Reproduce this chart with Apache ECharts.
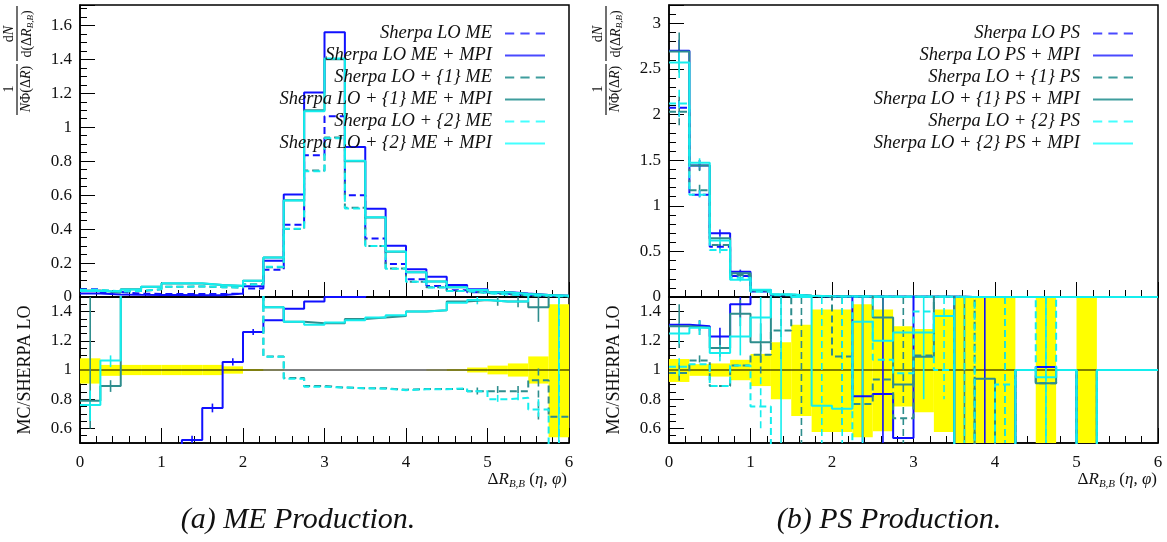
<!DOCTYPE html>
<html>
<head>
<meta charset="utf-8">
<script src="https://cdn.jsdelivr.net/npm/echarts@6/dist/echarts.min.js"></script>
<style>
html,body{margin:0;padding:0;background:#fff;}
#c{width:1167px;height:542px;}
</style>
</head>
<body>
<div id="c"></div>
<script>
// ---------------- DATA ----------------
const binEdges = [0,0.25,0.5,0.75,1,1.25,1.5,1.75,2,2.25,2.5,2.75,3,3.25,3.5,3.75,4,4.25,4.5,4.75,5,5.25,5.5,5.75,6];
const xTickLabels = ['0','1','2','3','4','5','6'];

const namesME = ['Sherpa LO ME','Sherpa LO ME + MPI','Sherpa LO + {1} ME','Sherpa LO + {1} ME + MPI','Sherpa LO + {2} ME','Sherpa LO + {2} ME + MPI'];
const namesPS = ['Sherpa LO PS','Sherpa LO PS + MPI','Sherpa LO + {1} PS','Sherpa LO + {1} PS + MPI','Sherpa LO + {2} PS','Sherpa LO + {2} PS + MPI'];

// (a) ME production, main distribution
const meLO        = [0.045,0.030,0.020,0.018,0.018,0.018,0.018,0.019,0.050,0.160,0.425,0.835,1.065,0.600,0.345,0.194,0.104,0.065,0.040,0.028,0.019,0.012,0.008,0.005];
const meLOMPI     = [0.020,0.015,0.013,0.012,0.012,0.010,0.011,0.020,0.063,0.214,0.604,1.205,1.560,0.884,0.520,0.302,0.163,0.120,0.070,0.045,0.030,0.020,0.012,0.008];
const meLO1       = [0.040,0.032,0.035,0.045,0.060,0.062,0.058,0.055,0.075,0.175,0.400,0.745,0.940,0.525,0.300,0.168,0.090,0.057,0.035,0.024,0.016,0.010,0.007,0.004];
const meLO1MPI    = [0.038,0.027,0.045,0.060,0.080,0.080,0.070,0.065,0.095,0.233,0.570,1.100,1.400,0.800,0.469,0.267,0.146,0.092,0.058,0.041,0.028,0.017,0.012,0.007];
const meLO2       = [0.042,0.033,0.036,0.046,0.060,0.063,0.058,0.056,0.074,0.178,0.402,0.740,0.935,0.522,0.300,0.167,0.090,0.056,0.035,0.024,0.015,0.010,0.006,0.003];
const meLO2MPI    = [0.036,0.032,0.044,0.060,0.081,0.081,0.071,0.066,0.096,0.232,0.568,1.094,1.405,0.802,0.470,0.268,0.146,0.092,0.058,0.041,0.028,0.017,0.012,0.008];

// (a) ratio MC / SHERPA LO
const rMeLOMPI    = [0.30,0.30,0.30,0.30,0.30,0.52,0.74,1.054,1.26,1.34,1.42,1.47,1.50,1.50,1.70,1.70,1.70,1.70,1.70,1.70,1.70,1.70,1.70,1.70];
const rMeLO1      = [1.70,1.70,2.00,2.00,2.00,2.00,2.00,2.00,2.00,1.093,0.946,0.89,0.88,0.875,0.875,0.865,0.87,0.87,0.87,0.855,0.855,0.855,0.93,0.68];
const rMeLO1MPI   = [0.79,0.89,2.00,2.00,2.00,2.00,2.00,2.00,2.00,1.43,1.33,1.32,1.32,1.35,1.36,1.37,1.40,1.41,1.47,1.48,1.47,1.47,1.43,1.70];
const rMeLO2      = [1.70,1.70,2.00,2.00,2.00,2.00,2.00,2.00,2.00,1.09,0.94,0.885,0.88,0.875,0.872,0.862,0.868,0.868,0.875,0.855,0.80,0.81,0.73,0.40];
const rMeLO2MPI   = [0.76,1.065,2.00,2.00,2.00,2.00,2.00,2.00,2.00,1.43,1.33,1.31,1.325,1.34,1.36,1.375,1.40,1.41,1.46,1.48,1.47,1.47,1.70,1.70];
const bandLoA     = [0.907,0.96,0.965,0.965,0.965,0.965,0.965,0.975,0.994,0.998,0.999,1,1,1,1,1,0.999,0.998,0.995,0.983,0.97,0.955,0.907,0.54];
const bandHiA     = [1.08,1.035,1.035,1.035,1.035,1.035,1.035,1.025,1.006,1.002,1.001,1,1,1,1,1,1.001,1.002,1.005,1.017,1.03,1.045,1.093,1.45];
// (a) ratio error bars [x, low, high]
const eRMeLOMPI   = [[1.375,0.50,0.55],[1.625,0.71,0.77],[1.875,1.03,1.08],[2.125,1.24,1.28]];
const eRMeLO1     = [[4.875,0.83,0.88],[5.125,0.82,0.89],[5.375,0.82,0.89],[5.625,0.65,1.01],[5.875,0.30,1.70]];
const eRMeLO1MPI  = [[0.125,0.60,1.70],[0.375,0.85,0.93],[5.125,1.44,1.50],[5.375,1.43,1.50],[5.625,1.33,1.50]];
const eRMeLO2     = [[5.125,0.78,0.83],[5.375,0.78,0.84],[5.625,0.68,0.80],[5.875,0.30,1.70]];
const eRMeLO2MPI  = [[0.125,0.65,0.86],[0.375,1.02,1.10],[4.875,1.45,1.50],[5.875,0.30,1.70]];

// (b) PS production, main distribution
const psLO        = [2.075,1.12,0.55,0.23,0.060,0.020,0.012,0.008,0.006,0.005,0.004,0.003,0.002,0.002,0.001,0.001,0.001,0.0005,0.0005,0.0003,0.0002,0.0001,0.0001,0.0001];
const psLOMPI     = [2.70,1.44,0.698,0.277,0.077,0.022,0.012,0.008,0.006,0.004,0.003,0.002,0.002,0.002,0.001,0.001,0.001,0.0005,0.0005,0.0003,0.0002,0.0001,0.0001,0.0001];
const psLO1       = [2.03,1.17,0.57,0.24,0.068,0.025,0.014,0.009,0.006,0.004,0.004,0.003,0.002,0.002,0.001,0.001,0.001,0.0005,0.0005,0.0003,0.0002,0.0001,0.0001,0.0001];
const psLO1MPI    = [2.69,1.44,0.643,0.26,0.072,0.024,0.013,0.008,0.006,0.005,0.004,0.003,0.002,0.002,0.001,0.001,0.001,0.0005,0.0005,0.0003,0.0002,0.0001,0.0001,0.0001];
const psLO2       = [2.12,1.12,0.515,0.21,0.058,0.018,0.010,0.007,0.005,0.004,0.003,0.002,0.002,0.001,0.001,0.001,0.001,0.0005,0.0005,0.0003,0.0002,0.0001,0.0001,0.0001];
const psLO2MPI    = [2.57,1.47,0.62,0.19,0.080,0.030,0.015,0.009,0.006,0.005,0.004,0.003,0.002,0.002,0.001,0.001,0.001,0.0005,0.0005,0.0003,0.0002,0.0001,0.0001,0.0001];
// (b) main error bars [x, low, high]
const ePsLO       = [[0.125,1.98,2.16],[0.375,1.07,1.17],[0.625,0.52,0.58]];
const ePsLOMPI    = [[0.125,2.58,2.82],[0.375,1.39,1.50],[0.625,0.66,0.74],[0.875,0.26,0.30]];
const ePsLO1      = [[0.125,1.86,2.20],[0.375,1.11,1.23],[0.625,0.54,0.60]];
const ePsLO1MPI   = [[0.125,2.46,2.90],[0.375,1.38,1.50],[0.875,0.22,0.29]];
const ePsLO2      = [[0.125,1.97,2.27],[0.375,1.07,1.17],[0.625,0.48,0.55]];
const ePsLO2MPI   = [[0.125,2.40,2.70],[0.375,1.42,1.52],[0.625,0.58,0.66],[0.875,0.17,0.21]];

// (b) ratio MC / SHERPA LO
const rPsLOMPI    = [1.31,1.30,1.23,1.45,1.80,1.80,1.80,1.80,1.80,0.82,0.835,0.535,1.80,1.80,0,0,0,1,1.02,1,0,1,1,1];
const rPsLO1      = [0.98,1.065,0.89,1.03,1.105,1.27,1.80,1.80,1.093,0.767,0.935,0.67,1.10,1.80,1.80,0,0,1,0.91,1,0,1,1,1];
const rPsLO1MPI   = [1.30,1.29,1.15,1.385,1.19,1.80,1.80,1.80,1.80,1.80,1.36,0.90,1.09,1.80,0,0.94,0,1,0.91,1,0,1,1,1];
const rPsLO2      = [1.023,1.04,0.89,1.03,0.75,0.20,0.20,0.20,0.20,1.80,1.07,0.977,1.40,1.00,1.80,0,0.90,1,1.80,1,0,1,1,1];
const rPsLO2MPI   = [1.25,1.29,1.117,1.23,1.36,1.80,1.50,0.755,0.735,1.33,1.20,1.256,1.256,1.37,0,0,0,1,0.95,1,0,1,1,1];
const bandLoB     = [0.918,0.96,0.955,0.93,0.89,0.80,0.685,0.575,0.575,0.54,0.58,0.75,0.71,0.575,0.3,0.3,0.3,1,0.3,1,0.3,1,1,1];
const bandHiB     = [1.075,1.04,1.045,1.07,1.11,1.19,1.31,1.415,1.415,1.45,1.415,1.30,1.28,1.415,1.7,1.7,1.7,1,1.7,1,1.7,1,1,1];
// (b) ratio error bars [x, low, high]
const eRPsLOMPI   = [[0.375,1.27,1.34],[0.625,1.17,1.29],[0.875,1.36,1.55],[2.375,0.30,1.70],[2.625,0.30,1.70],[3.875,0.30,1.70]];
const eRPsLO1     = [[0.125,0.92,1.05],[0.375,1.03,1.10],[1.125,0.95,1.25],[1.375,1.05,1.50],[1.625,0.30,1.70],[2.125,0.60,1.60],[2.875,0.30,1.70],[4.125,0.30,1.70]];
const eRPsLO1MPI  = [[0.125,1.15,1.45],[0.375,1.24,1.34],[0.625,1.09,1.22],[0.875,1.30,1.48],[1.125,1.05,1.32],[2.625,1.20,1.70],[3.625,0.30,1.70]];
const eRPsLO2     = [[0.125,0.96,1.08],[1.125,0.60,0.95],[1.875,0.30,1.70],[2.125,0.30,1.70],[3.375,0.80,1.55],[3.625,0.30,1.70],[4.125,0.30,1.70],[4.625,0.30,1.70]];
const eRPsLO2MPI  = [[0.125,1.18,1.32],[0.375,1.24,1.34],[0.625,1.06,1.17],[0.875,1.10,1.36],[1.125,1.20,1.50],[1.375,0.30,1.70],[2.375,0.30,1.70],[3.125,0.80,1.70],[4.625,0.30,1.70]];

// ---------------- STYLE ----------------
const SERIF = "'Liberation Serif','DejaVu Serif',serif";
const BLUE = '#1010ff', TEAL = '#2e8d8d', CYAN = '#14eeee';
const styles = [
  {color: BLUE, type: [7,4], legend: '#4a4aff', dashed: true},
  {color: BLUE, type: 'solid', legend: '#4a4aff', dashed: false},
  {color: TEAL, type: [7,4], legend: '#3f9d9d', dashed: true},
  {color: TEAL, type: 'solid', legend: '#3f9d9d', dashed: false},
  {color: CYAN, type: [7,4], legend: '#44ffff', dashed: true},
  {color: CYAN, type: 'solid', legend: '#44ffff', dashed: false}
];
const ICON_SOLID = 'path://M0,0H40V2H0Z';
const ICON_DASH = 'path://M0,0H9V2H0Z M15,0H24V2H15Z M30,0H39V2H30Z';

function stepData(vals){
  const d = vals.map((v,i)=>[binEdges[i], v]);
  d.push([binEdges[binEdges.length-1], vals[vals.length-1]]);
  return d;
}
function histSeries(name, vals, st, xi, yi){
  return {
    name: name, type: 'line', step: 'end', symbol: 'none', showSymbol: false,
    xAxisIndex: xi, yAxisIndex: yi, clip: true, silent: true,
    data: stepData(vals),
    lineStyle: {color: st.color, width: 2, type: st.type},
    itemStyle: {color: st.color},
    z: 3
  };
}
function errSeries(vals, st, xi, yi){
  return {
    type: 'custom', xAxisIndex: xi, yAxisIndex: yi, silent: true, z: 3,
    data: vals,
    renderItem: function(params, api){
      const cs = params.coordSys;
      const a = api.coord([api.value(0), api.value(1)]);
      const b = api.coord([api.value(0), api.value(2)]);
      const y0 = Math.max(cs.y, Math.min(a[1], b[1]));
      const y1 = Math.min(cs.y + cs.height, Math.max(a[1], b[1]));
      if (y1 <= y0) return null;
      return {type:'line', shape:{x1:a[0], y1:y0, x2:a[0], y2:y1},
              style:{stroke: st.color, lineWidth: 1.6, lineDash: st.dashed ? [7,4] : null}};
    }
  };
}
function bandSeries(lo, hi, xi, yi){
  const data = lo.map((l,i)=>[binEdges[i], binEdges[i+1], l, hi[i]]);
  return {
    type: 'custom', xAxisIndex: xi, yAxisIndex: yi, silent: true, z: 1,
    data: data,
    renderItem: function(params, api){
      const cs = params.coordSys;
      const p0 = api.coord([api.value(0), api.value(3)]);
      const p1 = api.coord([api.value(1), api.value(2)]);
      let x0 = p0[0], x1 = p1[0];
      let y0 = Math.max(cs.y, Math.min(p0[1], p1[1]));
      let y1 = Math.min(cs.y + cs.height, Math.max(p0[1], p1[1]));
      if (y1 - y0 < 0.5) return null;
      return {type:'rect', shape:{x:x0, y:y0, width:x1-x0, height:y1-y0}, style:{fill:'#ffff00'}};
    }
  };
}
function unitLine(xi, yi){
  return {
    type: 'line', xAxisIndex: xi, yAxisIndex: yi, symbol: 'none', silent: true, z: 2,
    data: [[binEdges[0],1],[binEdges[binEdges.length-1],1]],
    lineStyle: {color:'#000', width: 1.2}
  };
}
function xAx(gi, showLabels){
  return {
    type:'value', gridIndex: gi, min: 0, max: 6, interval: 1,
    axisLine:{show:true, onZero:false, lineStyle:{color:'#000', width:1.5}},
    axisTick:{show:true, inside:true, length:15, lineStyle:{color:'#000', width:1}},
    minorTick:{show:true, splitNumber:5, length:7, lineStyle:{color:'#000', width:1}},
    splitLine:{show:false}, minorSplitLine:{show:false},
    axisLabel:{show: showLabels, margin: 11, color:'#111', fontFamily: SERIF, fontSize: 17,
               formatter: function(v){ return xTickLabels[Math.round(v)]; }}
  };
}
function yAx(gi, cfg){
  const o = {
    type:'value', gridIndex: gi, min: cfg.min, max: cfg.max,
    axisLine:{show:true, onZero:false, lineStyle:{color:'#000', width:1.5}},
    axisTick:{show:true, inside:true, length:15, lineStyle:{color:'#000', width:1}},
    minorTick:{show:true, splitNumber: cfg.minor, length:7, lineStyle:{color:'#000', width:1}},
    splitLine:{show:false}, minorSplitLine:{show:false},
    axisLabel:{margin: 8, color:'#111', fontFamily: SERIF, fontSize: 17, showMaxLabel: false, showMinLabel: cfg.showMin}
  };
  if (cfg.interval) o.interval = cfg.interval; else o.splitNumber = cfg.split;
  return o;
}

const grids = [
  {left: 80, top: 5, width: 489, height: 292},
  {left: 80, top: 297, width: 489, height: 146},
  {left: 669, top: 5, width: 489, height: 292},
  {left: 669, top: 297, width: 489, height: 146}
].map(g => Object.assign(g, {show:true, borderColor:'#000', borderWidth:1.5, backgroundColor:'transparent', containLabel:false}));

const xAxes = [xAx(0,false), xAx(1,true), xAx(2,false), xAx(3,true)];
const yAxes = [
  yAx(0, {min:0, max:1.72, interval:0.2, minor:4, showMin:true}),
  yAx(1, {min:0.5, max:1.5, split:5, minor:4, showMin:false}),
  yAx(2, {min:0, max:3.2, interval:0.5, minor:5, showMin:true}),
  yAx(3, {min:0.5, max:1.5, split:5, minor:4, showMin:false})
];

const mainA = [meLO, meLOMPI, meLO1, meLO1MPI, meLO2, meLO2MPI];
const mainB = [psLO, psLOMPI, psLO1, psLO1MPI, psLO2, psLO2MPI];
const errMainB = [ePsLO, ePsLOMPI, ePsLO1, ePsLO1MPI, ePsLO2, ePsLO2MPI];
const ratioA = [null, rMeLOMPI, rMeLO1, rMeLO1MPI, rMeLO2, rMeLO2MPI];
const errRatioA = [null, eRMeLOMPI, eRMeLO1, eRMeLO1MPI, eRMeLO2, eRMeLO2MPI];
const ratioB = [null, rPsLOMPI, rPsLO1, rPsLO1MPI, rPsLO2, rPsLO2MPI];
const errRatioB = [null, eRPsLOMPI, eRPsLO1, eRPsLO1MPI, eRPsLO2, eRPsLO2MPI];

const series = [];
mainA.forEach((v,i)=>series.push(histSeries(namesME[i], v, styles[i], 0, 0)));
mainB.forEach((v,i)=>{
  series.push(histSeries(namesPS[i], v, styles[i], 2, 2));
  series.push(errSeries(errMainB[i], styles[i], 2, 2));
});
series.push(bandSeries(bandLoA, bandHiA, 1, 1));
series.push(unitLine(1,1));
ratioA.forEach((v,i)=>{ if(v){
  series.push(histSeries(namesME[i]+' ratio', v, styles[i], 1, 1));
  series.push(errSeries(errRatioA[i], styles[i], 1, 1));
}});
series.push(bandSeries(bandLoB, bandHiB, 3, 3));
series.push(unitLine(3,3));
ratioB.forEach((v,i)=>{ if(v){
  series.push(histSeries(namesPS[i]+' ratio', v, styles[i], 3, 3));
  series.push(errSeries(errRatioB[i], styles[i], 3, 3));
}});

// legends: one per entry so that all entries are right-aligned
const legendRowsY = [34, 56, 78, 100, 122, 144];
const legends = [];
function addLegends(names, rightPx){
  names.forEach((n,i)=>{
    legends.push({
      data:[n], right: rightPx, top: legendRowsY[i]-10, orient:'horizontal', align:'right',
      padding: 0, itemWidth: 40, itemHeight: 2.5, selectedMode: false,
      icon: styles[i].dashed ? ICON_DASH : ICON_SOLID,
      itemStyle: {color: styles[i].legend, borderWidth: 0},
      textStyle:{fontFamily: SERIF, fontStyle:'italic', fontSize: 18.5, color:'#111', padding:[0,8,0,0]}
    });
  });
}
addLegends(namesME, 1167-545);
addLegends(namesPS, 1167-1133);

// y-axis fraction label for main plots
function fracLabel(X0, Y0){
  return {
    type:'group', x: X0, y: Y0, rotation: Math.PI/2, silent: true,
    children: [
      {type:'text', style:{text:'1', x:26, y:-1, align:'center', verticalAlign:'bottom', font:'14px '+SERIF, fill:'#111'}},
      {type:'line', shape:{x1:0,y1:0,x2:51,y2:0}, style:{stroke:'#111', lineWidth:1.2}},
      {type:'text', style:{text:'{i|N}{n|Φ(Δ}{i|R}{n|)}', x:26, y:2, align:'center', verticalAlign:'top',
        rich:{i:{fontFamily:SERIF, fontSize:14, fontStyle:'italic', fill:'#111'}, n:{fontFamily:SERIF, fontSize:14, fill:'#111'}}}},
      {type:'text', style:{text:'{n|d}{i|N}', x:81, y:-1, align:'center', verticalAlign:'bottom',
        rich:{i:{fontFamily:SERIF, fontSize:14, fontStyle:'italic', fill:'#111'}, n:{fontFamily:SERIF, fontSize:14, fill:'#111'}}}},
      {type:'line', shape:{x1:54,y1:0,x2:109,y2:0}, style:{stroke:'#111', lineWidth:1.2}},
      {type:'text', style:{text:'{n|d(Δ}{i|R}{s|B,B}{n|)}', x:81, y:2, align:'center', verticalAlign:'top',
        rich:{i:{fontFamily:SERIF, fontSize:14, fontStyle:'italic', fill:'#111'}, n:{fontFamily:SERIF, fontSize:14, fill:'#111'},
              s:{fontFamily:SERIF, fontSize:9, fontStyle:'italic', fill:'#111', padding:[7,0,0,0]}}}}
    ]
  };
}
function xName(xRight){
  return {type:'text', silent:true, style:{text:'{n|Δ}{i|R}{s|B,B}{n| (}{i|η}{n|, }{i|φ}{n|)}', x:xRight, y:480, align:'right', verticalAlign:'middle',
    rich:{i:{fontFamily:SERIF, fontSize:17, fontStyle:'italic', fill:'#111'}, n:{fontFamily:SERIF, fontSize:17, fill:'#111'},
          s:{fontFamily:SERIF, fontSize:11, fontStyle:'italic', fill:'#111', padding:[9,0,0,0]}}}};
}
function ratioName(X){
  return {type:'text', silent:true, x: X, y: 370, rotation: Math.PI/2,
    style:{text:'MC/SHERPA LO', x:0, y:0, align:'center', verticalAlign:'middle', font:'18px '+SERIF, fill:'#111'}};
}
function caption(txt, X){
  return {type:'text', silent:true, style:{text: txt, x: X, y: 520, align:'center', verticalAlign:'middle',
    font:'italic 30px '+SERIF, fill:'#111'}};
}

const graphics = [
  fracLabel(17, 115), fracLabel(606, 115),
  ratioName(25), ratioName(614),
  xName(567), xName(1157),
  caption('(a) ME Production.', 298), caption('(b) PS Production.', 889)
];

const chart = echarts.init(document.getElementById('c'), null, {renderer:'canvas'});
chart.setOption({
  animation: false,
  backgroundColor: '#fff',
  grid: grids, xAxis: xAxes, yAxis: yAxes,
  legend: legends,
  series: series,
  graphic: graphics
});
</script>
</body>
</html>
